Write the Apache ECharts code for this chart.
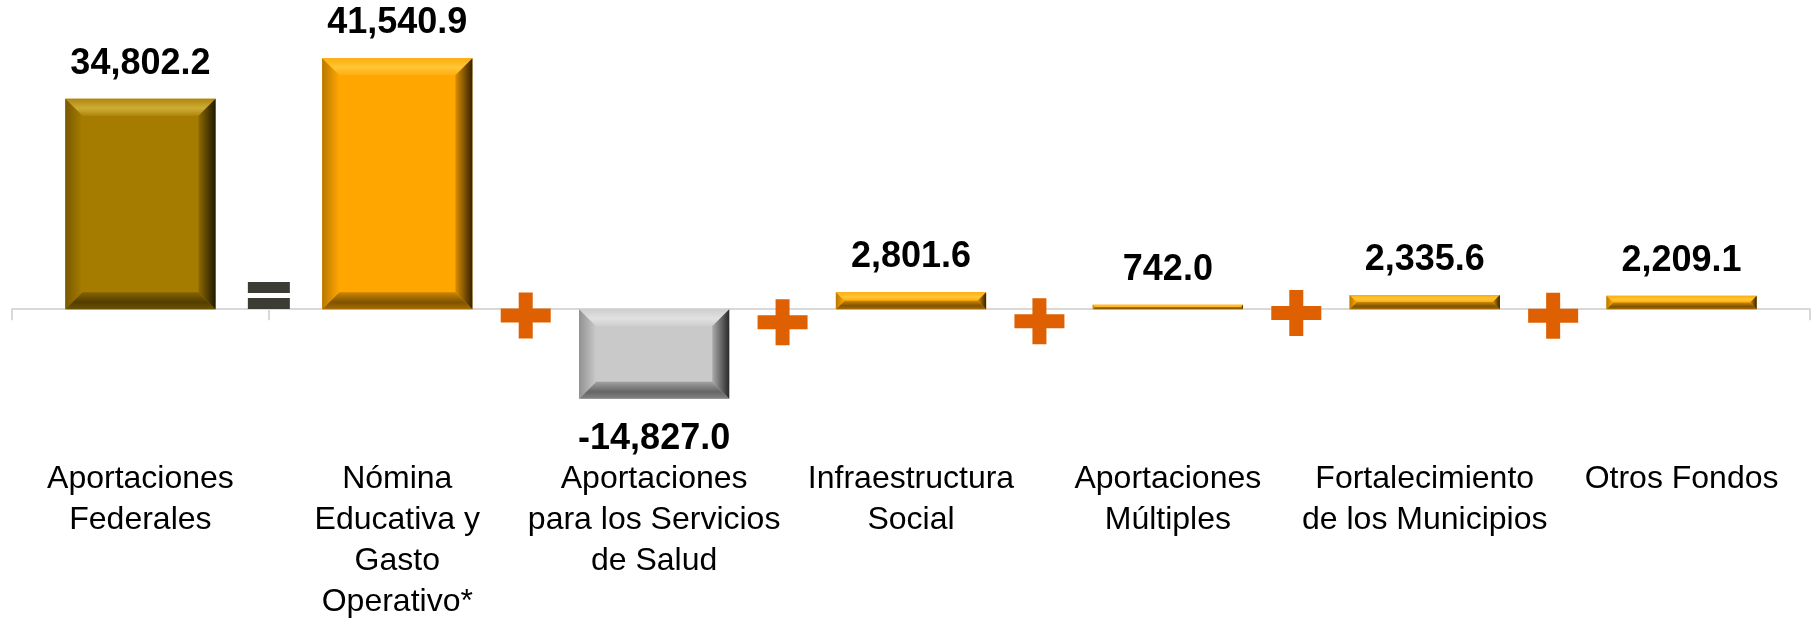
<!DOCTYPE html>
<html>
<head>
<meta charset="utf-8">
<title>Aportaciones Federales</title>
<script src="https://cdn.jsdelivr.net/npm/echarts@6/dist/echarts.min.js"></script>
<style>
  html, body { margin: 0; padding: 0; background: #fff; }
  #chart { width: 1816px; height: 623px; }
</style>
</head>
<body>
<div id="chart"></div>
<script>
const categories = [
  'Aportaciones\nFederales',
  'Nómina\nEducativa y\nGasto\nOperativo*',
  'Aportaciones\npara los Servicios\nde Salud',
  'Infraestructura\nSocial',
  'Aportaciones\nMúltiples',
  'Fortalecimiento\nde los Municipios',
  'Otros Fondos'
];
const values = [34802.2, 41540.9, -14827.0, 2801.6, 742.0, 2335.6, 2209.1];

// signs between the bars (sit on category boundaries 1..6), small vertical offset in data units
const operatorSymbols = ['=', '+', '+', '+', '+', '+'];
const operatorOffsets = [2243, -1030, -2180, -2010, -620, -1110];

const barColors = ['#A67C00', '#FFA600', '#C9C9C9', '#FFA600', '#FFA600', '#FFA600', '#FFA600'];
const bevelTints = ['#FFE878', '#FFF07A', '#FFFFFF', '#FFF07A', '#FFF07A', '#FFF07A', '#FFF07A'];

const PLUS_PATH = 'path://M18,0H32V16H50V30H32V46H18V30H0V16H18Z';
const EQUALS_PATH = 'path://M0,0H42V11H0Z M0,16H42V27H0Z';

function mix(hex, target, t) {
  const a = echarts.color.parse(hex);
  const b = echarts.color.parse(target);
  const r = [0, 1, 2].map(i => Math.round(a[i] + (b[i] - a[i]) * t));
  return 'rgb(' + r.join(',') + ')';
}

function grad(horizontal, stops) {
  return {
    type: 'linear', x: 0, y: 0, x2: horizontal ? 1 : 0, y2: horizontal ? 0 : 1,
    colorStops: stops.map(s => ({ offset: s[0], color: s[1] }))
  };
}

function fmt(v) {
  return v.toLocaleString('en-US', { minimumFractionDigits: 1, maximumFractionDigits: 1 });
}

// bevelled bar, like the office chart style
function renderBar(params, api) {
  const idx = api.value(0);
  const val = api.value(1);
  const p0 = api.coord([idx, 0]);
  const p1 = api.coord([idx, val]);
  const w = api.size([1, 0])[0] * 0.585;
  const x = p0[0] - w / 2;
  const y = Math.min(p0[1], p1[1]);
  const h = Math.abs(p1[1] - p0[1]);
  const b = Math.min(17, h / 2, w / 2);
  const c = barColors[idx];
  const tint = bevelTints[idx];
  const labelY = val >= 0 ? y - 35 : y + h + 40;

  return {
    type: 'group',
    children: [
      { type: 'rect', shape: { x: x, y: y, width: w, height: h }, style: { fill: c } },
      {
        type: 'polygon',
        shape: { points: [[x, y], [x + w, y], [x + w - b, y + b], [x + b, y + b]] },
        style: { fill: grad(false, [[0, mix(c, tint, 0.1)], [0.55, mix(c, tint, 0.45)], [1, mix(c, tint, 0.1)]]) }
      },
      {
        type: 'polygon',
        shape: { points: [[x, y + h], [x + w, y + h], [x + w - b, y + h - b], [x + b, y + h - b]] },
        style: { fill: grad(false, [[0, mix(c, '#000000', 0.2)], [0.6, mix(c, '#000000', 0.5)], [1, mix(c, '#000000', 0.35)]]) }
      },
      {
        type: 'polygon',
        shape: { points: [[x, y], [x + b, y + b], [x + b, y + h - b], [x, y + h]] },
        style: { fill: grad(true, [[0, mix(c, '#000000', 0.28)], [1, c]]) }
      },
      {
        type: 'polygon',
        shape: { points: [[x + w, y], [x + w - b, y + b], [x + w - b, y + h - b], [x + w, y + h]] },
        style: { fill: grad(true, [[0, mix(c, '#000000', 0.15)], [1, mix(c, '#000000', 0.8)]]) }
      },
      {
        type: 'text',
        style: {
          text: fmt(val),
          x: p0[0],
          y: labelY,
          align: 'center',
          verticalAlign: 'middle',
          font: 'bold 36px "Liberation Sans Narrow", "Liberation Sans", sans-serif',
          fill: '#000'
        }
      }
    ]
  };
}

const chart = echarts.init(document.getElementById('chart'));

const option = {
  backgroundColor: '#ffffff',
  animation: false,
  grid: { left: 12, right: 6, top: 1, height: 434 },
  xAxis: [
    {
      // zero line with boundary ticks
      type: 'category',
      data: categories,
      axisLine: { onZero: true, lineStyle: { color: '#D9D9D9', width: 2 } },
      axisTick: { show: true, length: 11, lineStyle: { color: '#D9D9D9', width: 2 } },
      axisLabel: { show: false },
      splitLine: { show: false }
    },
    {
      // category names below the plot
      type: 'category',
      data: categories,
      position: 'bottom',
      axisLine: { show: false, onZero: false },
      axisTick: { show: false },
      axisLabel: {
        interval: 0,
        margin: 29,
        color: '#000',
        fontSize: 32,
        lineHeight: 41,
        fontFamily: '"Liberation Sans", Arial, sans-serif',
        align: 'center'
      }
    },
    {
      // helper axis for the operator signs on the boundaries
      type: 'value',
      min: 0,
      max: 7,
      show: false
    }
  ],
  yAxis: {
    type: 'value',
    min: -20000,
    max: 51000,
    show: false,
    splitLine: { show: false }
  },
  series: [
    {
      type: 'custom',
      xAxisIndex: 0,
      renderItem: renderBar,
      encode: { x: 0, y: 1 },
      data: values.map((v, i) => [i, v]),
      z: 3
    },
    {
      type: 'scatter',
      xAxisIndex: 2,
      z: 10,
      data: operatorSymbols.map((s, i) => ({
        value: [i + 1, operatorOffsets[i]],
        symbol: s === '=' ? EQUALS_PATH : PLUS_PATH,
        symbolSize: s === '=' ? [42, 27] : [50, 46],
        itemStyle: { color: s === '=' ? '#3C3C34' : '#DF6000', opacity: 1 }
      }))
    }
  ]
};

chart.setOption(option);
window.addEventListener('resize', () => chart.resize());
</script>
</body>
</html>
